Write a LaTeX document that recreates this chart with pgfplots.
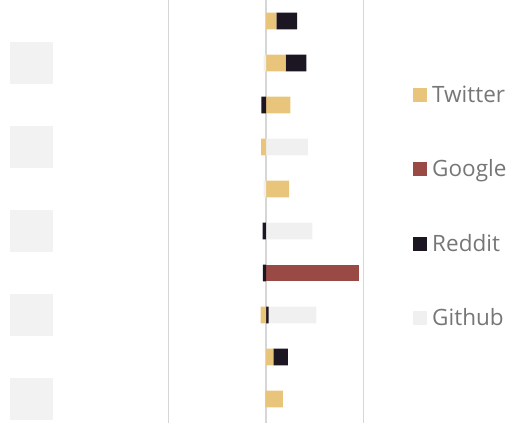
\documentclass[border=0pt]{standalone}
\usepackage{pgfplots}
\pgfplotsset{compat=1.18}
\usepackage{fontspec}
\setmainfont{Open Sans}
\definecolor{twit}{HTML}{E8C57A}
\definecolor{goog}{HTML}{9A4A44}
\definecolor{redd}{HTML}{1C1522}
\definecolor{gith}{HTML}{F0F0F0}
\definecolor{boxgray}{HTML}{F2F2F2}
\definecolor{gridc}{HTML}{D6D6D6}
\definecolor{txt}{HTML}{767676}
\newcommand\boxlbl{\textcolor{boxgray}{\rule[-21pt]{43pt}{42pt}}}
\pgfplotsset{base/.style={
  x=0.975pt, y=42pt, y dir=reverse,
  xmin=-218.46, xmax=130.3, ymin=0.5, ymax=10.5714,
  axis line style={draw=none}, major tick length=0pt,
  xbar stacked, bar width=16.7pt,
  at={(53pt,0pt)}, anchor=south west,
  clip=false,
}}
\begin{document}
\begin{tikzpicture}
\useasboundingbox (0,0) rectangle (525pt,423pt);
\begin{axis}[base,
  xtick={-100,0,100}, xticklabels={},
  xmajorgrids, grid style={line width=1.6pt, gridc},
  ytick={2,4,6,8,10},
  yticklabels={\boxlbl,\boxlbl,\boxlbl,\boxlbl,\boxlbl},
  yticklabel style={inner sep=0pt},
  legend style={at={(axis description cs:1.0588,0.805)}, anchor=north west,
    draw=none, fill=none, inner sep=0pt,
    font=\fontsize{22.5}{26}\selectfont\color{txt},
    row sep=50pt,
    nodes={inner xsep=5pt, inner ysep=3pt}},
  legend cell align=left,
  legend image code/.code={\fill[#1] (0pt,-7pt) rectangle (14pt,7pt);},
]
\addplot[fill=twit, draw=none] coordinates {(10.6,1) (20.2,2) (25,3) (0,4) (23.6,5) (0,6) (0,7) (0,8) (7.5,9) (17.4,10)};
\addplot[fill=goog, draw=none] coordinates {(0,1) (0,2) (0,3) (0,4) (0,5) (0,6) (95,7) (0,8) (0,9) (0,10)};
\addplot[fill=redd, draw=none] coordinates {(21.2,1) (21.2,2) (0,3) (0,4) (0,5) (0,6) (0,7) (2.7,8) (15,9) (0,10)};
\addplot[fill=gith, draw=none] coordinates {(0,1) (0,2) (0,3) (43,4) (0,5) (47.5,6) (0,7) (49,8) (0,9) (0,10)};
\legend{Twitter,Google,Reddit,Github}
\end{axis}
\begin{axis}[base, xtick=\empty, ytick=\empty]
\addplot[fill=twit, draw=none] coordinates {(0,1) (0,2) (0,3) (-5.1,4) (0,5) (0,6) (0,7) (-5.5,8) (0,9) (-0.6,10)};
\addplot[fill=redd, draw=none] coordinates {(0,1) (0,2) (-4.8,3) (0,4) (0,5) (-3.4,6) (-3.1,7) (0,8) (0,9) (0,10)};
\addplot[fill=gith, draw=none] coordinates {(0,1) (-2.4,2) (0,3) (0,4) (-2.4,5) (0,6) (0,7) (0,8) (0,9) (0,10)};
\end{axis}
\end{tikzpicture}
\end{document}
